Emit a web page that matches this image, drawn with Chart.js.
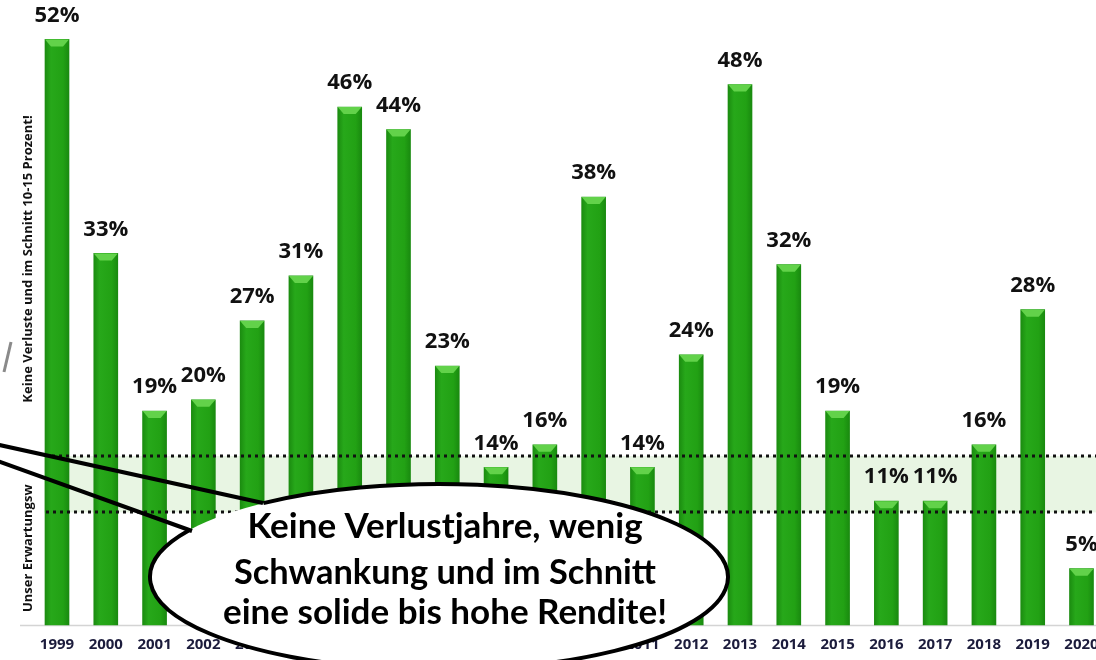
<!DOCTYPE html>
<html>
<head>
<meta charset="utf-8">
<script src="https://cdn.jsdelivr.net/npm/chart.js@4.4.1/dist/chart.umd.min.js"></script>
<style>
  html, body { margin: 0; padding: 0; background: #fff; overflow: hidden; }
  canvas { display: block; }
</style>
</head>
<body>
<canvas id="c" width="1096" height="660"></canvas>
<script>
// data
var years = ['1999','2000','2001','2002','2003','2004','2005','2006','2007','2008','2009',
             '2010','2011','2012','2013','2014','2015','2016','2017','2018','2019','2020'];
var returns = [52, 33, 19, 20, 27, 31, 46, 44, 23, 14, 16, 38, 14, 24, 48, 32, 19, 11, 11, 16, 28, 5];
var bandLow = 10;
var bandHigh = 15;
var sideText = 'Keine Verluste und im Schnitt 10-15 Prozent!';
var sideText2 = 'Unser Erwartungsw';
var bubbleLines = ['Keine Verlustjahre, wenig', 'Schwankung und im Schnitt', 'eine solide bis hohe Rendite!'];

var ctx = document.getElementById('c').getContext('2d');

function barFill(c) {
    var chart = c.chart;
    if (!chart.chartArea || !chart.scales.x) return '#22a114';
    var x = chart.scales.x.getPixelForValue(c.dataIndex);
    var g = chart.ctx.createLinearGradient(x - 12, 0, x + 12, 0);
    g.addColorStop(0, '#1b8c10');
    g.addColorStop(0.25, '#27a81a');
    g.addColorStop(0.75, '#22a114');
    g.addColorStop(1, '#198a0f');
    return g;
}

// band behind the bars, axis line
var backPlugin = {
    id: 'back',
    beforeDatasetsDraw: function(chart) {
        var c = chart.ctx, y = chart.scales.y;
        var top = y.getPixelForValue(bandHigh), bot = y.getPixelForValue(bandLow);
        c.save();
        c.fillStyle = '#e8f5e3';
        c.fillRect(44, top, 1096 - 44, bot - top);
        c.strokeStyle = '#d4d4d4';
        c.lineWidth = 1.5;
        c.beginPath();
        c.moveTo(20, y.getPixelForValue(0) + 0.5);
        c.lineTo(1096, y.getPixelForValue(0) + 0.5);
        c.stroke();
        c.restore();
    },
    afterDatasetsDraw: function(chart) {
        var c = chart.ctx, y = chart.scales.y;
        var meta = chart.getDatasetMeta(0);
        c.save();
        // bevel on top of each bar
        meta.data.forEach(function(bar) {
            var l = bar.x - bar.width / 2, r = bar.x + bar.width / 2, t = bar.y;
            c.fillStyle = '#62d24a';
            c.beginPath();
            c.moveTo(l, t);
            c.lineTo(r, t);
            c.lineTo(r - 6, t + 7);
            c.lineTo(l + 6, t + 7);
            c.closePath();
            c.fill();
        });
        // dotted band limits
        c.strokeStyle = '#111';
        c.lineWidth = 3;
        c.setLineDash([3, 4]);
        [[bandHigh, 52], [bandLow, 46]].forEach(function(p) {
            var py = Math.round(y.getPixelForValue(p[0]));
            c.beginPath();
            c.moveTo(p[1], py);
            c.lineTo(1096, py);
            c.stroke();
        });
        c.setLineDash([]);
        // value labels
        c.fillStyle = '#111';
        c.font = 'bold 22px "Open Sans"';
        c.textAlign = 'center';
        c.textBaseline = 'middle';
        meta.data.forEach(function(bar, i) {
            c.fillText(returns[i] + '%', bar.x, bar.y - 24, 46);
        });
        c.restore();
    },
    afterDraw: function(chart) {
        var c = chart.ctx;
        c.save();
        // vertical side texts
        c.fillStyle = '#111';
        c.font = 'bold 13px "Open Sans"';
        c.textBaseline = 'middle';
        c.save();
        c.translate(28, 259);
        c.rotate(-Math.PI / 2);
        c.textAlign = 'center';
        c.fillText(sideText, 0, 0, 318);
        c.restore();
        c.save();
        c.translate(28, 612);
        c.rotate(-Math.PI / 2);
        c.textAlign = 'left';
        c.fillText(sideText2, 0, 0, 144);
        c.restore();

        // grey remnant at the left edge
        c.strokeStyle = '#8a8a8a';
        c.lineWidth = 3;
        c.beginPath();
        c.moveTo(11, 342);
        c.lineTo(4, 372);
        c.stroke();

        // speech bubble
        var cx = 439, cy = 577, rx = 289, ry = 93;
        c.fillStyle = '#fff';
        c.beginPath();
        c.ellipse(cx, cy, rx, ry, 0, 0, Math.PI * 2);
        c.fill();
        c.strokeStyle = '#000';
        c.lineWidth = 4;
        c.beginPath();
        c.ellipse(cx, cy, rx, ry, 0, -2.224, 3.665);
        c.stroke();
        c.beginPath();
        c.moveTo(263, 503);
        c.lineTo(-5, 444);
        c.moveTo(192, 531);
        c.lineTo(-5, 460);
        c.stroke();

        c.fillStyle = '#000';
        c.font = 'bold 35px Lato';
        c.textAlign = 'center';
        c.textBaseline = 'middle';
        var ys = [527, 573, 613], ws = [400, 422, 448];
        bubbleLines.forEach(function(t, i) {
            c.fillText(t, 445, ys[i], ws[i]);
        });
        c.restore();
    }
};

var chart = new Chart(ctx, {
    type: 'bar',
    data: {
        labels: years,
        datasets: [{
            data: returns,
            backgroundColor: barFill,
            borderWidth: 0,
            barThickness: 24,
            clip: false
        }]
    },
    options: {
        responsive: false,
        animation: false,
        devicePixelRatio: 1,
        layout: { padding: { left: 57, right: 14.5, top: 0, bottom: 0 } },
        plugins: { legend: { display: false }, tooltip: { enabled: false } },
        scales: {
            x: {
                offset: false,
                grid: { display: false, drawTicks: false },
                border: { display: false },
                ticks: {
                    autoSkip: false,
                    maxRotation: 0,
                    padding: 11,
                    color: '#1c1c3c',
                    font: { family: 'Open Sans', weight: 'bold', size: 15 }
                },
                afterFit: function(s) {
                    s.height = 35;
                    s.paddingLeft = 0;
                    s.paddingRight = 0;
                }
            },
            y: {
                display: false,
                min: 0,
                max: 55.5
            }
        }
    },
    plugins: [backPlugin]
});
</script>
</body>
</html>
